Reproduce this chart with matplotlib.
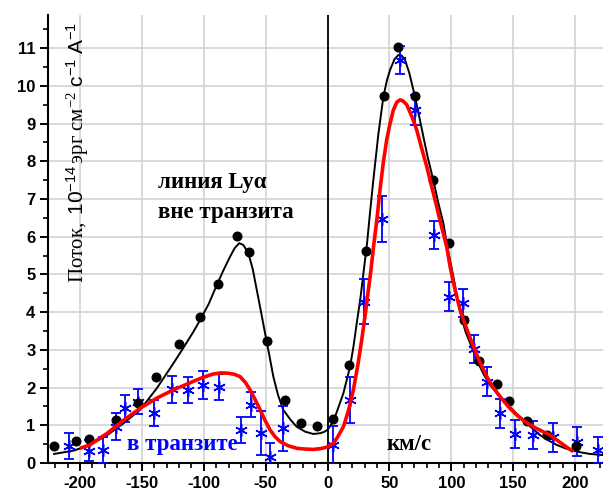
import matplotlib
matplotlib.use("Agg")
import matplotlib.pyplot as plt
from matplotlib.ticker import MultipleLocator

plt.rcParams['axes.unicode_minus'] = False
plt.rcParams['mathtext.fontset'] = 'custom'
plt.rcParams['mathtext.rm'] = 'Liberation Serif'
plt.rcParams['mathtext.sf'] = 'Liberation Sans'
plt.rcParams['mathtext.it'] = 'Liberation Serif:italic'

# Out-of-transit observations (black circles)
out_x = [-220.7, -203, -192.5, -171, -153.5, -138.7, -120, -103, -88.5, -72.8, -63.5,
         -48.6, -34.7, -21.5, -8.3, 4.3, 17.7, 31.2, 45.4, 57, 71, 85.2, 97.8, 110,
         122, 136.8, 147, 161.5, 177.7, 200.8]
out_y = [0.45, 0.59, 0.64, 1.14, 1.58, 2.29, 3.15, 3.86, 4.74, 6.02, 5.6,
         3.24, 1.67, 1.06, 0.98, 1.17, 2.6, 5.63, 9.73, 11.02, 9.73, 7.5, 5.84, 3.79,
         2.71, 2.10, 1.65, 1.12, 0.74, 0.46]

# In-transit observations (blue asterisks with errors)
in_x = [-208.6, -193, -181.7, -171, -164, -153.5, -140, -126, -113, -100.5, -87.6,
        -69.6, -61.5, -53.5, -46.5, -35.7, 4.3, 18, 29.8, 44.1, 58.3, 70.4, 85.7,
        98.4, 109.4, 118, 128.8, 139.5, 151.6, 166.4, 182, 201.9, 218.8]
in_y = [0.45, 0.32, 0.35, 0.96, 1.45, 1.63, 1.32, 1.95, 1.94, 2.07, 2.02,
        0.88, 1.54, 0.80, 0.17, 0.92, 0.48, 1.67, 4.28, 6.46, 10.69, 9.36, 6.05,
        4.41, 4.24, 3.02, 2.16, 1.32, 0.77, 0.74, 0.68, 0.57, 0.34]
in_err = [0.35, 0.28, 0.35, 0.36, 0.35, 0.34, 0.35, 0.35, 0.35, 0.36, 0.35,
          0.35, 0.33, 0.59, 0.35, 0.59, 0.5, 0.6, 0.6, 0.61, 0.37, 0.39, 0.38,
          0.38, 0.38, 0.38, 0.38, 0.38, 0.38, 0.38, 0.38, 0.38, 0.35]

# Fitted profile, out of transit (black line)
fit_out_x = [-221, -205, -192, -178, -165, -151.5, -138, -124.6, -116, -108.4, -103,
             -96, -89.5, -84, -78.8, -75, -71.3, -68, -64, -60.5, -57.2, -54, -50.5,
             -47, -43.8, -40, -35.8, -30, -24.9, -18, -11.5, -6, -3, 0, 4.7, 8.5,
             12.8, 15.5, 18.2, 21, 23.6, 26.5, 29, 32, 34.5, 37, 41, 45.1, 48, 50.5,
             54, 57.2, 60, 62.6, 66, 70.7, 74, 77.4, 81, 85.5, 89.5, 93.6, 97, 101.7,
             105, 108.4, 111.5, 115.2, 118.5, 121.9, 126.5, 131.3, 138, 144.8, 151.5,
             158.2, 165, 171.7, 178.5, 185.2, 192, 198.6, 205, 212, 222.6]
fit_out_y = [0.24, 0.33, 0.48, 0.74, 1.05, 1.41, 1.98, 2.64, 3.08, 3.48, 3.79,
             4.22, 4.72, 5.12, 5.47, 5.7, 5.83, 5.78, 5.56, 5.15, 4.59, 4.05, 3.44,
             2.85, 2.29, 1.8, 1.41, 1.15, 0.96, 0.83, 0.77, 0.79, 0.82, 0.88, 1.10, 1.45,
             1.85, 2.2, 2.55, 3.1, 3.71, 4.35, 5.03, 5.85, 6.7, 7.5, 8.7, 9.71, 10.15, 10.42,
             10.7, 10.82, 10.8, 10.69, 10.35, 9.71, 9.2, 8.66, 8.1, 7.5, 6.9, 6.36, 5.7, 4.94,
             4.35, 3.84, 3.48, 3.18, 2.9, 2.64, 2.33, 2.07, 1.8, 1.58, 1.35,
             1.14, 0.93, 0.74, 0.6, 0.48, 0.39, 0.33, 0.28, 0.24, 0.21]

# Fitted profile, in transit (red line)
fit_in_x = [-200, -192, -178, -164.6, -151.5, -138, -124.6, -113, -103, -97, -92.3,
            -86, -80.2, -75, -70.7, -66.5, -62.6, -58.5, -54.5, -50.5, -46.5, -42.5,
            -38.4, -32, -24.9, -18, -11.5, -6, -3, 0, 4.7, 8, 12.8, 17, 20.9, 24.5,
            27.6, 30.5, 33, 35, 37, 40, 42.4, 45, 47.8, 50.5, 53.2, 56, 58.6, 61, 64,
            68, 72.1, 76, 80.2, 84, 88.2, 92, 96.3, 99, 103, 107.1, 112.5, 117.9,
            123, 128.7, 134, 139.4, 146, 152.9, 159.5, 166.3, 173, 179.8, 189, 198.6]
fit_in_y = [0.39, 0.48, 0.79, 1.14, 1.45, 1.72, 1.94, 2.10, 2.24, 2.31, 2.36,
            2.39, 2.38, 2.35, 2.29, 2.14, 1.94, 1.68, 1.41, 1.13, 0.88, 0.7,
            0.57, 0.46, 0.39, 0.37, 0.36, 0.38, 0.40, 0.43, 0.52, 0.68, 0.96, 1.4, 1.94, 2.6,
            3.26, 3.95, 4.59, 5.1, 5.69, 6.5, 7.24, 7.95, 8.57, 9.0, 9.36, 9.57, 9.63, 9.6, 9.50,
            9.2, 8.83, 8.35, 7.86, 7.35, 6.8, 6.28, 5.74, 5.21, 4.6, 4.06, 3.55, 3.09,
            2.68, 2.29, 2.0, 1.76, 1.5, 1.27, 1.1, 0.96, 0.85, 0.74, 0.52, 0.30]

x_ticks = [-200, -150, -100, -50, 0, 50, 100, 150, 200]
y_ticks = list(range(0, 12))

fig = plt.figure(figsize=(6.03, 4.94), dpi=100)
ax = fig.add_axes([48 / 603, 1 - 463 / 494, 555 / 603, 448 / 494])
ax.set_xlim(-225.9, 222.6)
ax.set_ylim(0, 11.88)

ax.grid(True, which='major', color='#d0d0d0', lw=1.1, zorder=0)
ax.set_axisbelow(True)
ax.axvline(0, color='black', lw=1.3, zorder=1)

ax.plot(fit_out_x, fit_out_y, color='black', lw=1.4, zorder=3)
ax.errorbar(in_x, in_y, yerr=in_err, fmt='none', ecolor='#0000ff', elinewidth=1.3,
            capsize=3.5, capthick=1.3, zorder=4)
ax.plot(in_x, in_y, linestyle='none', marker=(6, 2, 0), markersize=9,
        markeredgecolor='#0000ff', markeredgewidth=1.1, color='#0000ff', zorder=4)
ax.plot(out_x, out_y, linestyle='none', marker='o', markersize=6.2,
        color='black', zorder=5)
ax.plot(fit_in_x, fit_in_y, color='#ff0000', lw=2.6, zorder=6,
        solid_capstyle='butt', solid_joinstyle='round')

for s in ['top', 'right']:
    ax.spines[s].set_visible(False)
for s in ['left', 'bottom']:
    ax.spines[s].set_linewidth(1.5)

ax.set_xticks(x_ticks)
ax.set_yticks(y_ticks)
ax.xaxis.set_minor_locator(MultipleLocator(10))
ax.yaxis.set_minor_locator(MultipleLocator(0.5))
ax.tick_params(which='major', direction='out', length=6, width=1.4, pad=3)
ax.tick_params(which='minor', direction='out', length=3.5, width=1.2)
for lab in ax.get_xticklabels() + ax.get_yticklabels():
    lab.set_fontfamily('Liberation Sans')
    lab.set_fontweight('bold')
    lab.set_fontsize(12)

ylab = (r"$\mathrm{Поток,}\ \mathsf{10^{-14}}\,\mathrm{эрг\ см^{-2}}\ "
        r"\mathsf{c^{-1}\ A^{-1}}$")
ax.text(0.053, 0.693, ylab, transform=ax.transAxes, rotation=90,
        ha='center', va='center', fontsize=15)

serif_bold = dict(family='Liberation Serif', weight='bold', fontsize=16.5)
ax.text(-137, 7.43, "линия Lyα", ha='left', va='center', **serif_bold)
ax.text(-137, 6.63, "вне транзита", ha='left', va='center', **serif_bold)
ax.text(-162, 0.5, "в транзите", color='#0000ff', ha='left', va='center', **serif_bold)
ax.text(47.3, 0.5, "км/с", color='black', ha='left', va='center', **serif_bold)

fig.savefig("out.png", dpi=100)
